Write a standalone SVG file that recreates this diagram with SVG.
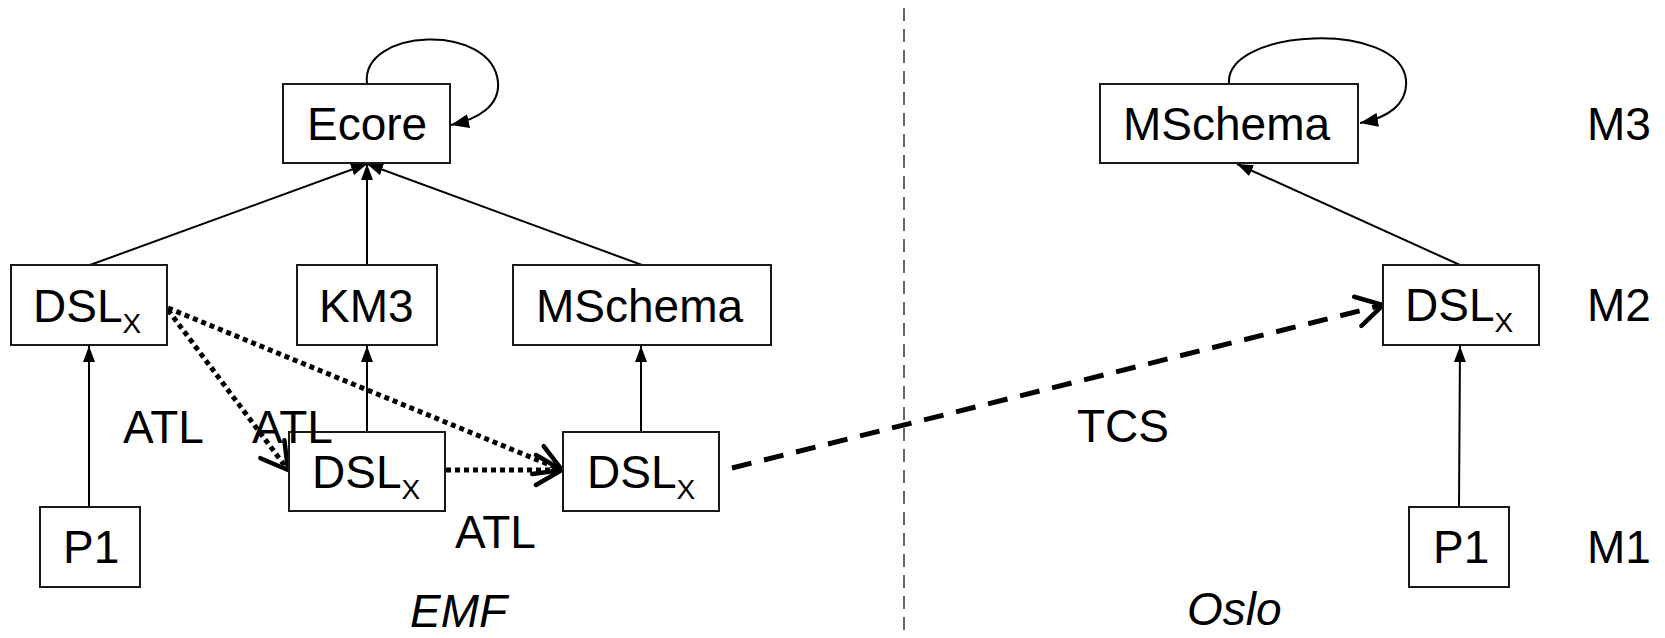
<svg xmlns="http://www.w3.org/2000/svg" width="1665" height="638" viewBox="0 0 1665 638">
<defs>
<style>
.box{fill:#fff;stroke:#1a1a1a;stroke-width:2}
.t{font-family:"Liberation Sans",Arial,sans-serif;font-size:46px;fill:#000}
.sub{font-size:28px}
.it{font-style:italic}
.ln{fill:none;stroke:#000;stroke-width:2}
.dot{fill:none;stroke:#000;stroke-width:5;stroke-dasharray:5 4}
.dash{fill:none;stroke:#000;stroke-width:5;stroke-dasharray:20 13}
.sep{fill:none;stroke:#333;stroke-width:1.5;stroke-dasharray:13 8}
</style>
<marker id="tri" viewBox="0 0 16 12" refX="16" refY="6" markerWidth="16" markerHeight="12" markerUnits="userSpaceOnUse" orient="auto">
<path d="M0,0 L16,6 L0,12 z" fill="#000"/>
</marker>
<marker id="tri2" viewBox="0 0 18 14" refX="18" refY="7" markerWidth="18" markerHeight="14" markerUnits="userSpaceOnUse" orient="auto">
<path d="M0,0 L18,7 L0,14 z" fill="#000"/>
</marker>
<marker id="open" viewBox="0 0 34 40" refX="31" refY="20" markerWidth="34" markerHeight="40" markerUnits="userSpaceOnUse" orient="auto">
<path d="M5,5 L31,20 L5,35" fill="none" stroke="#000" stroke-width="4.5" stroke-linecap="round" stroke-linejoin="miter"/>
</marker>
</defs>
<rect width="1665" height="638" fill="#fff"/>

<g id="connectors">
<path class="ln" d="M90,265 L367,164" marker-end="url(#tri)"/>
<path class="ln" d="M367,265 L367,164" marker-end="url(#tri)"/>
<path class="ln" d="M642,265 L367,164" marker-end="url(#tri)"/>
<path class="ln" d="M367,84 C360,28 492,22 498,82 C500,106 478,119 451,125" marker-end="url(#tri2)"/>
<path class="ln" d="M89,507 L89,346" marker-end="url(#tri)"/>
<path class="ln" d="M367,432 L367,346" marker-end="url(#tri)"/>
<path class="ln" d="M641,432 L641,346" marker-end="url(#tri)"/>
<path class="ln" d="M1229,84 C1224,28 1400,20 1406,80 C1408,104 1388,118 1360,123" marker-end="url(#tri2)"/>
<path class="ln" d="M1460,265 L1237,164" marker-end="url(#tri)"/>
<path class="ln" d="M1459,507 L1460,346" marker-end="url(#tri)"/>
<path class="dot" d="M168,310 L288,470" marker-end="url(#open)"/>
<path class="dot" d="M168,308 L562,470" marker-end="url(#open)"/>
<path class="dot" d="M446,470 L562,470" marker-end="url(#open)"/>
<path class="dash" d="M732,468 L1383,305" marker-end="url(#open)"/>
<path class="sep" d="M904,8 L904,630"/>
</g>

<g id="n-ecore"><rect class="box" x="283" y="84" width="167" height="79"/><text class="t" x="307" y="140">Ecore</text></g>
<g id="n-dsl1"><rect class="box" x="11" y="265" width="156" height="80"/><text class="t" x="33" y="322">DSL<tspan class="sub" dy="11">X</tspan></text></g>
<g id="n-km3"><rect class="box" x="297" y="265" width="140" height="80"/><text class="t" x="319" y="322">KM3</text></g>
<g id="n-mschema1"><rect class="box" x="513" y="265" width="258" height="80"/><text class="t" x="536" y="322">MSchema</text></g>
<g id="n-dsl2"><rect class="box" x="289" y="432" width="156" height="79"/><text class="t" x="312" y="488">DSL<tspan class="sub" dy="11">X</tspan></text></g>
<g id="n-dsl3"><rect class="box" x="563" y="432" width="156" height="79"/><text class="t" x="587" y="488">DSL<tspan class="sub" dy="11">X</tspan></text></g>
<g id="n-p1a"><rect class="box" x="40" y="507" width="100" height="80"/><text class="t" x="63" y="563">P1</text></g>
<g id="n-mschema2"><rect class="box" x="1100" y="84" width="258" height="79"/><text class="t" x="1123" y="140">MSchema</text></g>
<g id="n-dsl4"><rect class="box" x="1383" y="265" width="156" height="80"/><text class="t" x="1405" y="321">DSL<tspan class="sub" dy="11">X</tspan></text></g>
<g id="n-p1b"><rect class="box" x="1409" y="507" width="100" height="80"/><text class="t" x="1433" y="563">P1</text></g>

<g id="labels">
<text class="t" x="123" y="443">ATL</text>
<text class="t" x="252" y="443">ATL</text>
<text class="t" x="455" y="548">ATL</text>
<text class="t" x="1077" y="442">TCS</text>
<text class="t it" x="410" y="627">EMF</text>
<text class="t it" x="1187" y="625">Oslo</text>
<text class="t" x="1587" y="140">M3</text>
<text class="t" x="1587" y="321">M2</text>
<text class="t" x="1587" y="563">M1</text>
</g>
</svg>
